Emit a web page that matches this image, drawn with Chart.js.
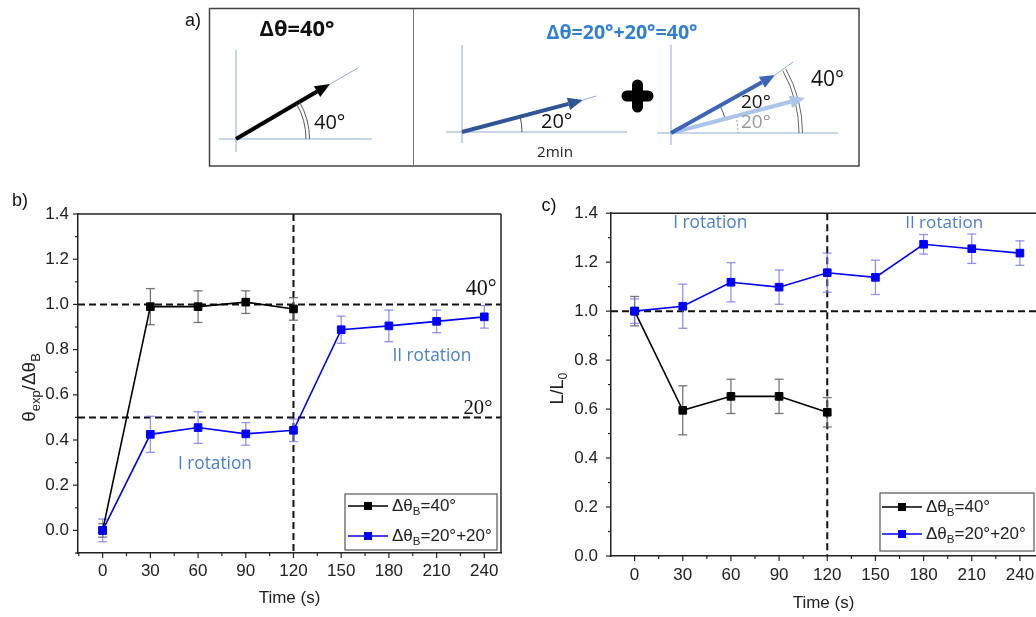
<!DOCTYPE html>
<html>
<head>
<meta charset="utf-8">
<script src="https://cdn.jsdelivr.net/npm/chart.js@4.4.1/dist/chart.umd.min.js"></script>
<style>
  html, body { margin: 0; padding: 0; background: #fff; overflow: hidden; width: 1036px; height: 617px; }
  #wrap { position: relative; width: 1036px; height: 617px; overflow: hidden; }
  #diagram { position: absolute; left: 0; top: 0; }
  .box { position: absolute; }
</style>
</head>
<body>
<div id="wrap">
  <canvas id="diagram" width="1036" height="180"></canvas>
  <div class="box" style="left:0;top:190px;width:518px;height:427px"><canvas id="chartB"></canvas></div>
  <div class="box" style="left:520px;top:190px;width:540px;height:427px"><canvas id="chartC"></canvas></div>
</div>
<script>
// data
const times = [0, 30, 60, 90, 120, 150, 180, 210, 240];
const timeTicks = [0, 30, 60, 90, 120, 150, 180, 210, 240];
const ratioTicks = [0, 0.2, 0.4, 0.6, 0.8, 1.0, 1.2, 1.4];

// b) theta_exp / delta theta_B
const angleSingle = [0, 0.99, 0.99, 1.01, 0.98];
const angleSingleErr = [0.03, 0.08, 0.07, 0.05, 0.05];
const angleDouble = [0, 0.425, 0.455, 0.427, 0.443, 0.888, 0.905, 0.925, 0.945];
const angleDoubleErr = [0.05, 0.08, 0.07, 0.05, 0.05, 0.06, 0.07, 0.05, 0.05];

// c) L / L0
const lenSingle = [1.0, 0.595, 0.652, 0.652, 0.587];
const lenSingleErr = [0.06, 0.10, 0.07, 0.07, 0.06];
const lenDouble = [1.0, 1.02, 1.118, 1.098, 1.157, 1.138, 1.273, 1.255, 1.237];
const lenDoubleErr = [0.05, 0.09, 0.08, 0.07, 0.08, 0.07, 0.04, 0.06, 0.05];

const FONT = '"Liberation Sans", Arial, sans-serif';
const SERIF = '"Liberation Serif", "DejaVu Serif", serif';
const DIA = '"Open Sans", "Noto Sans", sans-serif';
const NOTE_BLUE = '#4a7fd0';

const toPts = arr => arr.map((v, i) => ({ x: times[i], y: v }));

function fitFont(ctx, text, weight, family, width) {
  ctx.font = weight + ' 100px ' + family;
  const w = ctx.measureText(text).width;
  return weight + ' ' + (100 * width / w).toFixed(1) + 'px ' + family;
}

// text with subscripts: parts = [[text, isSub], ...]
function richWidth(ctx, parts, size, family) {
  let w = 0;
  parts.forEach(([t, sub]) => {
    ctx.font = (sub ? size * 0.68 : size) + 'px ' + family;
    w += ctx.measureText(t).width;
  });
  return w;
}
function drawRich(ctx, parts, x, y, size, family, color, align) {
  const total = richWidth(ctx, parts, size, family);
  let cx = align === 'center' ? x - total / 2 : x;
  ctx.fillStyle = color;
  ctx.textBaseline = 'middle';
  ctx.textAlign = 'left';
  parts.forEach(([t, sub]) => {
    ctx.font = (sub ? size * 0.68 : size) + 'px ' + family;
    ctx.fillText(t, cx, sub ? y + size * 0.32 : y);
    cx += ctx.measureText(t).width;
  });
}

function seg(ctx, x1, y1, x2, y2) {
  ctx.beginPath(); ctx.moveTo(x1, y1); ctx.lineTo(x2, y2); ctx.stroke();
}

function panelPlugin(p) {
  return {
    id: 'panel_' + p.name,
    beforeDatasetsDraw(chart) {
      const { ctx, chartArea: a, scales: { x, y } } = chart;
      ctx.save();
      // dashed reference lines
      ctx.setLineDash([7, 4]);
      ctx.lineWidth = 2;
      ctx.strokeStyle = '#111';
      p.hLines.forEach(v => { const py = y.getPixelForValue(v); seg(ctx, a.left, py, a.right, py); });
      p.vLines.forEach(v => { const px = x.getPixelForValue(v); seg(ctx, px, a.top, px, a.bottom); });
      ctx.setLineDash([]);
      // error bars
      chart.data.datasets.forEach(ds => {
        ctx.strokeStyle = ds.errColor;
        ctx.lineWidth = 1.3;
        ds.data.forEach((pt, j) => {
          const e = ds.errors[j];
          const px = x.getPixelForValue(pt.x);
          const lo = y.getPixelForValue(pt.y - e), hi = y.getPixelForValue(pt.y + e);
          seg(ctx, px, lo, px, hi);
          seg(ctx, px - 4.5, lo, px + 4.5, lo);
          seg(ctx, px - 4.5, hi, px + 4.5, hi);
        });
      });
      ctx.restore();
    },
    afterDraw(chart) {
      const { ctx, chartArea: a, scales: { x, y } } = chart;
      ctx.save();
      // frame top / right
      ctx.strokeStyle = '#222';
      ctx.lineWidth = 1.5;
      seg(ctx, a.left, a.top, a.right, a.top);
      seg(ctx, a.right, a.top, a.right, a.bottom);
      // outward ticks, major + minor
      ctx.lineWidth = 1.2;
      for (let v = -15; v <= 255; v += 15) {
        if (v < x.min || v > x.max) continue;
        const px = x.getPixelForValue(v);
        seg(ctx, px, a.bottom, px, a.bottom + (v % 30 === 0 ? 5 : 3));
      }
      for (let k = -1; k <= 14; k++) {
        const v = k / 10;
        if (v < y.min - 1e-9 || v > y.max + 1e-9) continue;
        const py = y.getPixelForValue(v);
        seg(ctx, a.left, py, a.left - (k % 2 === 0 ? 5 : 3), py);
      }
      // notes placed in data space
      p.notes.forEach(n => {
        const px = x.getPixelForValue(n.x), py = y.getPixelForValue(n.y);
        ctx.font = fitFont(ctx, n.text, 'normal', n.family, n.width);
        ctx.fillStyle = n.color;
        ctx.textAlign = 'center';
        ctx.textBaseline = 'middle';
        ctx.fillText(n.text, px, py);
      });
      // panel letter
      ctx.font = '18px ' + FONT;
      ctx.fillStyle = '#111';
      ctx.textAlign = 'center';
      ctx.textBaseline = 'middle';
      ctx.fillText(p.letter, p.letterX, p.letterY);
      // x title
      ctx.font = '17px ' + FONT;
      ctx.fillStyle = '#222';
      ctx.fillText('Time (s)', (a.left + a.right) / 2 + p.xTitleShift, a.bottom + p.xTitleDy);
      // y title (rotated, with subscripts)
      ctx.save();
      ctx.translate(p.yTitleX, (a.top + a.bottom) / 2 + p.yTitleDy);
      ctx.rotate(-Math.PI / 2);
      drawRich(ctx, p.yTitle, 0, 0, p.yTitleSize, FONT, '#222', 'center');
      ctx.restore();
      // legend box
      const L = p.legend;
      ctx.strokeStyle = '#555';
      ctx.lineWidth = 1.2;
      ctx.strokeRect(L.x, L.y, L.w, L.h);
      chart.data.datasets.forEach((ds, i) => {
        const ry = L.rows[i];
        ctx.strokeStyle = ds.borderColor;
        ctx.lineWidth = 1.5;
        seg(ctx, L.lineX, ry, L.lineX + 40, ry);
        ctx.fillStyle = ds.borderColor;
        ctx.fillRect(L.lineX + 20 - 4, ry - 4, 8, 8);
        drawRich(ctx, ds.richLabel, L.lineX + 44, ry, 17, FONT, '#222', 'left');
      });
      ctx.restore();
    }
  };
}

function makeChart(id, p) {
  return new Chart(document.getElementById(id), {
    type: 'line',
    data: {
      datasets: [
        {
          label: 'single', data: toPts(p.single), errors: p.singleErr, errColor: 'rgba(95,95,95,0.85)',
          richLabel: [['\u0394\u03b8', false], ['B', true], ['=40\u00b0', false]],
          borderColor: '#000', backgroundColor: '#000', borderWidth: 1.6,
          pointStyle: 'rect', pointRadius: 5.4, pointBorderWidth: 1, order: 1
        },
        {
          label: 'double', data: toPts(p.double), errors: p.doubleErr, errColor: 'rgba(110,110,240,0.75)',
          richLabel: [['\u0394\u03b8', false], ['B', true], ['=20\u00b0+20\u00b0', false]],
          borderColor: '#0000ff', backgroundColor: '#0000ff', borderWidth: 1.6,
          pointStyle: 'rect', pointRadius: 5.4, pointBorderWidth: 1, order: 0
        }
      ]
    },
    options: {
      responsive: true,
      maintainAspectRatio: false,
      animation: false,
      layout: { padding: { top: p.padTop, right: p.padRight, left: 0, bottom: 0 } },
      plugins: { legend: { display: false }, tooltip: { enabled: false } },
      scales: {
        x: {
          type: 'linear', min: p.xMin, max: p.xMax,
          grid: { display: false, drawTicks: false },
          border: { display: true, color: '#222', width: 1.5 },
          ticks: { font: { family: FONT, size: 17 }, color: '#222', padding: p.xPad, maxRotation: 0, callback: v => String(v) },
          afterBuildTicks: s => { s.ticks = timeTicks.map(v => ({ value: v })); },
          afterFit: s => { s.height = p.xAxisH; }
        },
        y: {
          type: 'linear', min: p.yMin, max: p.yMax,
          grid: { display: false, drawTicks: false },
          border: { display: true, color: '#222', width: 1.5 },
          ticks: { font: { family: FONT, size: 17 }, color: '#222', padding: p.yPad, callback: v => v.toFixed(1) },
          afterBuildTicks: s => { s.ticks = ratioTicks.map(v => ({ value: v })); },
          afterFit: s => { s.width = p.yAxisW; }
        }
      }
    },
    plugins: [panelPlugin(p)]
  });
}

makeChart('chartB', {
  name: 'b', letter: 'b)', letterX: 20, letterY: 11,
  single: angleSingle, singleErr: angleSingleErr, double: angleDouble, doubleErr: angleDoubleErr,
  xMin: -15.5, xMax: 250.5, yMin: -0.1, yMax: 1.4,
  padTop: 24, padRight: 17, yAxisW: 78, xAxisH: 64, xPad: 8, yPad: 9,
  hLines: [1.0, 0.5], vLines: [120],
  notes: [
    { text: 'II rotation', x: 207, y: 0.771, width: 79, family: DIA, color: NOTE_BLUE },
    { text: 'I rotation', x: 70.6, y: 0.292, width: 74, family: DIA, color: NOTE_BLUE },
    { text: '40\u00b0', x: 238, y: 1.068, width: 31, family: SERIF, color: '#111' },
    { text: '20\u00b0', x: 236, y: 0.54, width: 29, family: SERIF, color: '#111' }
  ],
  xTitleShift: 0, xTitleDy: 45,
  yTitleX: 30, yTitleDy: 4, yTitleSize: 19,
  yTitle: [['\u03b8', false], ['exp', true], ['/\u0394\u03b8', false], ['B', true]],
  legend: { x: 345, y: 304, w: 152, h: 56, lineX: 348, rows: [316, 346] }
});

makeChart('chartC', {
  name: 'c', letter: 'c)', letterX: 29, letterY: 16,
  single: lenSingle, singleErr: lenSingleErr, double: lenDouble, doubleErr: lenDoubleErr,
  xMin: -14.7, xMax: 255, yMin: 0, yMax: 1.4,
  padTop: 22, padRight: 16, yAxisW: 91, xAxisH: 61, xPad: 9, yPad: 13,
  hLines: [1.0], vLines: [120],
  notes: [
    { text: 'I rotation', x: 47.1, y: 1.36, width: 74, family: DIA, color: NOTE_BLUE },
    { text: 'II rotation', x: 192.8, y: 1.36, width: 78, family: DIA, color: NOTE_BLUE }
  ],
  xTitleShift: -4, xTitleDy: 47,
  yTitleX: 38, yTitleDy: 4, yTitleSize: 18,
  yTitle: [['L/L', false], ['0', true]],
  legend: { x: 360, y: 303, w: 154, h: 58, lineX: 362, rows: [317, 344] }
});

// panel a) illustration
(function drawDiagram() {
  const c = document.getElementById('diagram');
  const ctx = c.getContext('2d');
  const AXIS = '#8eaadb', DARK = '#2f5597', LIGHT = '#a9c5ea';

  function arrow(x1, y1, x2, y2, color, w, head) {
    const ang = Math.atan2(y2 - y1, x2 - x1);
    const bx = x2 - head * Math.cos(ang), by = y2 - head * Math.sin(ang);
    ctx.strokeStyle = color; ctx.lineWidth = w; ctx.lineCap = 'butt';
    seg(ctx, x1, y1, bx, by);
    ctx.fillStyle = color;
    ctx.beginPath();
    ctx.moveTo(x2, y2);
    ctx.lineTo(bx + head * 0.42 * Math.sin(ang), by - head * 0.42 * Math.cos(ang));
    ctx.lineTo(bx - head * 0.42 * Math.sin(ang), by + head * 0.42 * Math.cos(ang));
    ctx.closePath();
    ctx.fill();
  }
  function arc(ox, oy, r, a0, a1, color, w, dash) {
    ctx.strokeStyle = color; ctx.lineWidth = w;
    ctx.setLineDash(dash || []);
    ctx.beginPath(); ctx.arc(ox, oy, r, a0, a1); ctx.stroke();
    ctx.setLineDash([]);
  }
  function text(t, x, y, font, color, align) {
    ctx.font = font; ctx.fillStyle = color;
    ctx.textAlign = align || 'center'; ctx.textBaseline = 'middle';
    ctx.fillText(t, x, y);
  }
  const ang = (ox, oy, x, y) => Math.atan2(y - oy, x - ox);

  // frame
  ctx.strokeStyle = '#444'; ctx.lineWidth = 1.5;
  ctx.strokeRect(209.5, 8.5, 649.5, 157.5);
  ctx.lineWidth = 1; ctx.strokeStyle = '#777';
  seg(ctx, 413.5, 9, 413.5, 166);

  text('a)', 193, 21, '18px ' + FONT, '#111');
  text('\u0394\u03b8=40\u00b0', 297, 30, fitFont(ctx, '\u0394\u03b8=40\u00b0', 'bold', DIA, 75), '#111');
  text('\u0394\u03b8=20\u00b0+20\u00b0=40\u00b0', 622, 33, fitFont(ctx, '\u0394\u03b8=20\u00b0+20\u00b0=40\u00b0', 'bold', DIA, 151), '#2f7fd6');

  // sub 1: single 40 deg rotation
  ctx.strokeStyle = AXIS; ctx.lineWidth = 1;
  seg(ctx, 236, 50, 236, 152); seg(ctx, 219, 139, 372, 139);
  seg(ctx, 330, 84, 358, 68);
  arrow(236, 139, 330, 84, '#000', 4, 15);
  const a1 = ang(236, 139, 330, 84);
  arc(236, 139, 70, a1, 0, '#555', 1);
  arc(236, 139, 73.5, a1, 0, '#555', 1);
  text('40\u00b0', 314, 123, '20px ' + DIA, '#111', 'left');

  // sub 2: first 20 deg step
  ctx.strokeStyle = AXIS; ctx.lineWidth = 1;
  seg(ctx, 462, 45, 462, 143); seg(ctx, 446, 132, 627, 132);
  seg(ctx, 583, 100, 596, 96);
  arrow(462, 132, 583, 100, DARK, 4, 15);
  arc(462, 132, 60, ang(462, 132, 583, 100), 0, '#555', 1);
  text('20\u00b0', 541, 122, '20px ' + DIA, '#111', 'left');
  text('2min', 555, 153, fitFont(ctx, '2min', 'normal', DIA, 36), '#222');

  // plus sign
  ctx.strokeStyle = '#000'; ctx.lineWidth = 11; ctx.lineCap = 'round';
  seg(ctx, 627, 96, 648, 96); seg(ctx, 637.5, 85, 637.5, 107);
  ctx.lineCap = 'butt';

  // sub 3: second 20 deg step
  ctx.strokeStyle = AXIS; ctx.lineWidth = 1;
  seg(ctx, 671, 45, 671, 145); seg(ctx, 657, 133, 838, 133);
  seg(ctx, 775, 75, 793, 62);
  const aL = ang(671, 133, 805, 98), aD = ang(671, 133, 775, 75);
  arc(671, 133, 67, aL, 0, '#999', 1, [2, 2]);
  arc(671, 133, 56, aD, aL, '#555', 1);
  arc(671, 133, 128, aD, 0, '#666', 1);
  arc(671, 133, 131.5, aD, 0, '#666', 1);
  arrow(671, 133, 805, 98, LIGHT, 4, 15);
  arrow(671, 133, 775, 75, '#3b66b8', 4, 15);
  text('20\u00b0', 741, 103, '19px ' + DIA, '#111', 'left');
  text('20\u00b0', 741, 123, '19px ' + DIA, '#999', 'left');
  text('40\u00b0', 811, 80, '21px ' + DIA, '#111', 'left');
})();
</script>
</body>
</html>
